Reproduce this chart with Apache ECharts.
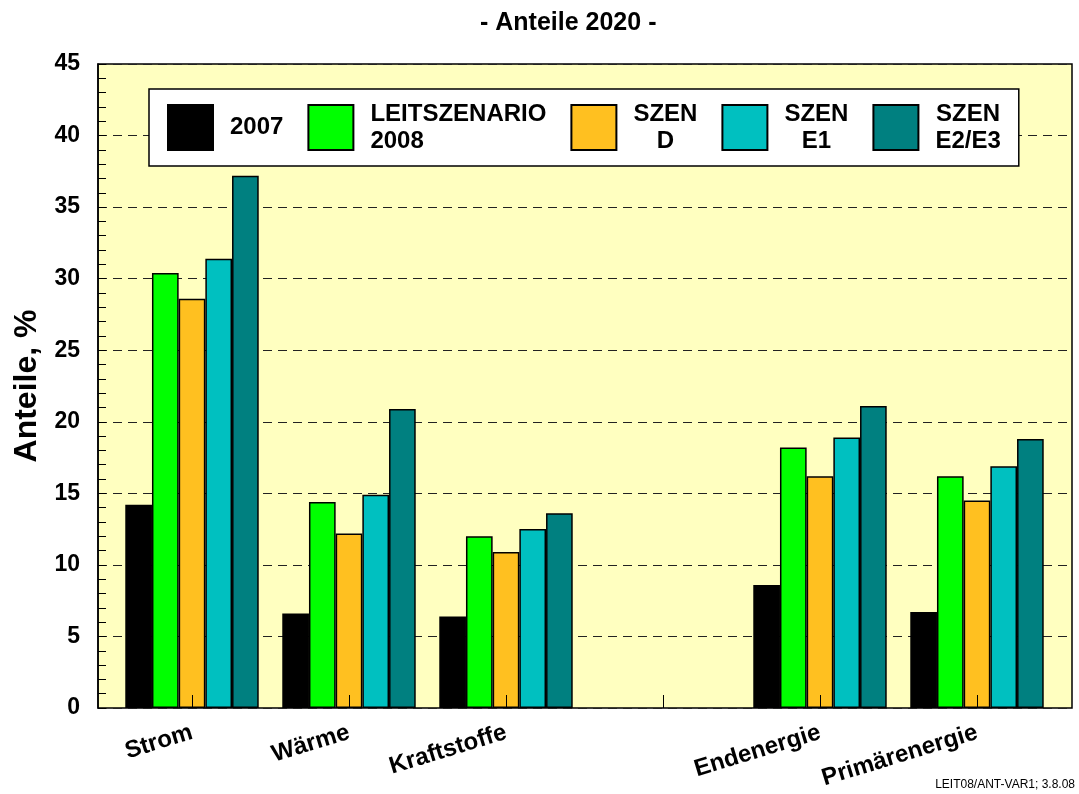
<!DOCTYPE html>
<html>
<head>
<meta charset="utf-8">
<script src="https://cdn.jsdelivr.net/npm/echarts@6/dist/echarts.min.js"></script>
<style>
html,body{margin:0;padding:0;background:#fff;}
#chart{width:1079px;height:794px;}
</style>
</head>
<body>
<div id="chart"></div>
<script>
// ---- data ----
const categories = ['Strom', 'Wärme', 'Kraftstoffe', '', 'Endenergie', 'Primärenergie'];
const seriesNames = ['2007', 'LEITSZENARIO 2008', 'SZEN D', 'SZEN E1', 'SZEN E2/E3'];
const legendLines = [['2007'], ['LEITSZENARIO', '2008'], ['SZEN', 'D'], ['SZEN', 'E1'], ['SZEN', 'E2/E3']];
const legendAlign = ['l', 'l', 'c', 'c', 'c'];
const v2007     = [14.2, 6.6, 6.4, null, 8.6, 6.7];
const vLeit2008 = [30.4, 14.4, 12.0, null, 18.2, 16.2];
const vSzenD    = [28.6, 12.2, 10.9, null, 16.2, 14.5];
const vSzenE1   = [31.4, 14.9, 12.5, null, 18.9, 16.9];
const vSzenE2E3 = [37.2, 20.9, 13.6, null, 21.1, 18.8];
const seriesValues = [v2007, vLeit2008, vSzenD, vSzenE1, vSzenE2E3];
const yTicks = [0, 5, 10, 15, 20, 25, 30, 35, 40, 45];
const colors = ['#000000', '#00FF00', '#FFC020', '#00C0C0', '#008080'];
const titleText = '- Anteile 2020 -';
const yAxisTitle = 'Anteile, %';
const footerText = 'LEIT08/ANT-VAR1; 3.8.08';

const FONT = '"Liberation Sans", Arial, Helvetica, sans-serif';
const chart = echarts.init(document.getElementById('chart'), null, {renderer: 'canvas'});

const option = {
  animation: false,
  backgroundColor: '#ffffff',
  title: {
    text: titleText,
    left: 475,
    top: 6,
    textStyle: {fontFamily: FONT, fontSize: 25, fontWeight: 'bold', color: '#000'}
  },
  legend: {
    left: 149,
    top: 89,
    orient: 'horizontal',
    data: seriesNames,
    icon: 'rect',
    itemWidth: 45,
    itemHeight: 45,
    itemGap: 24,
    padding: [13, 18, 13, 18],
    backgroundColor: '#ffffff',
    borderColor: '#000000',
    borderWidth: 1.5,
    selectedMode: false,
    formatter: function (name) {
      const i = seriesNames.indexOf(name);
      return legendLines[i].map(function (l) { return '{' + legendAlign[i] + '|' + l + '}'; }).join('\n');
    },
    textStyle: {
      fontFamily: FONT, fontSize: 24, fontWeight: 'bold', color: '#000',
      rich: {
        l: {fontFamily: FONT, fontSize: 24, fontWeight: 'bold', color: '#000', lineHeight: 27, padding: [0, 0, 0, 12]},
        c: {fontFamily: FONT, fontSize: 24, fontWeight: 'bold', color: '#000', lineHeight: 27, padding: [0, 0, 0, 12], align: 'center'}
      }
    }
  },
  grid: [
    {left: 98, top: 64, width: 974, height: 644, show: true, backgroundColor: '#FFFFC0', borderColor: '#000', borderWidth: 1.5, containLabel: false},
    {left: 113.5, top: 64, width: 942, height: 644, show: false, containLabel: false}
  ],
  xAxis: [
    {gridIndex: 0, type: 'value', min: 0, max: 1, show: false},
    {
      gridIndex: 1, type: 'category', data: categories, z: 10,
      axisLine: {show: false},
      axisTick: {show: true, inside: true, alignWithLabel: true, length: 13, lineStyle: {color: '#000', width: 1}},
      axisLabel: {interval: 0, rotate: 17, margin: 24, fontFamily: FONT, fontSize: 24, fontWeight: 'bold', color: '#000'},
      splitLine: {show: false}
    }
  ],
  yAxis: [
    {
      gridIndex: 0, type: 'value', min: yTicks[0], max: yTicks[yTicks.length - 1], interval: 5,
      axisLine: {show: true, lineStyle: {color: '#000', width: 1.5}},
      axisTick: {show: true, inside: true, length: 8, lineStyle: {color: '#000', width: 1}},
      minorTick: {show: true, splitNumber: 5, length: 8, lineStyle: {color: '#000', width: 1}},
      splitLine: {show: true, lineStyle: {type: [9, 6], color: '#222', width: 1}},
      axisLabel: {margin: 18, fontFamily: FONT, fontSize: 23, fontWeight: 'bold', color: '#000'},
      name: yAxisTitle, nameLocation: 'middle', nameRotate: 90, nameGap: 51,
      nameTextStyle: {fontFamily: FONT, fontSize: 32, fontWeight: 'bold', color: '#000'}
    },
    {gridIndex: 1, type: 'value', min: 0, max: 45, interval: 5, show: false, splitLine: {show: false}}
  ],
  series: seriesNames.map(function (n, i) {
    return {
      name: n, type: 'bar', xAxisIndex: 1, yAxisIndex: 1,
      data: seriesValues[i],
      barGap: '0%', barCategoryGap: '15%',
      itemStyle: {color: colors[i], borderColor: '#000', borderWidth: 1.5},
      emphasis: {disabled: true}
    };
  }),
  graphic: [
    {type: 'text', right: 4, bottom: 3, style: {text: footerText, font: '12px ' + FONT, fill: '#000'}}
  ]
};
chart.setOption(option);
</script>
</body>
</html>
